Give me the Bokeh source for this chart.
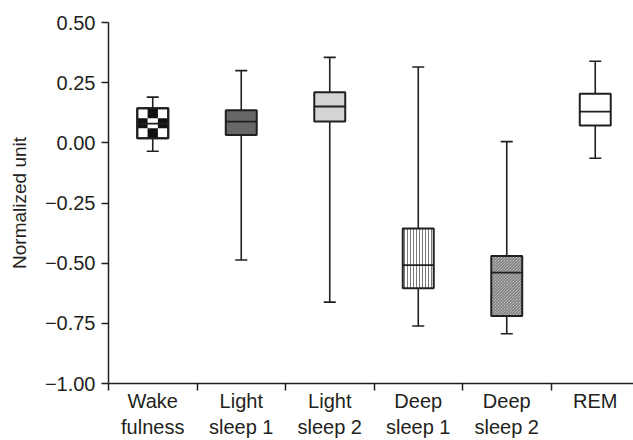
from bokeh.plotting import figure
from bokeh.models import Range1d, FixedTicker, ColumnDataSource
from bokeh.embed import file_html
from bokeh.resources import INLINE

categories = ["Wake\nfulness", "Light\nsleep 1", "Light\nsleep 2", "Deep\nsleep 1", "Deep\nsleep 2", "REM"]
whisker_low = [-0.035, -0.487, -0.662, -0.761, -0.793, -0.064]
q1 = [0.019, 0.033, 0.089, -0.604, -0.720, 0.072]
median = [0.080, 0.088, 0.151, -0.508, -0.539, 0.130]
q3 = [0.144, 0.135, 0.210, -0.356, -0.470, 0.204]
whisker_high = [0.190, 0.300, 0.355, 0.315, 0.005, 0.339]
y_ticks = [-1.0, -0.75, -0.5, -0.25, 0.0, 0.25, 0.5]
y_tick_labels = ["\u22121.00", "\u22120.75", "\u22120.50", "\u22120.25", "0.00", "0.25", "0.50"]

INK = "#231f20"
FONT = "Liberation Sans"
n = len(categories)
centers = [i + 0.5 for i in range(n)]
bounds = [float(i) for i in range(n + 1)]
BW = 0.35
CAP = 0.068

fills = ["white", "#676767", "#d4d4d4", "white", "#dcdcdc", "white"]
hatches = [" ", " ", " ", "vertical_line", "left_diagonal_line", " "]
hscale = [4, 4, 4, 3, 3, 4]
hcolor = ["#777777", "#777777", "#777777", "#7a7a7a", "#6a6a6a", "#777777"]

p = figure(width=633, height=440, output_backend="svg", toolbar_location=None,
           x_range=Range1d(0, 525 / 88.5), y_range=Range1d(-1.0, 0.5),
           min_border_left=108, min_border_right=0, min_border_top=22, min_border_bottom=57)
p.outline_line_color = None
p.xgrid.visible = False
p.ygrid.visible = False
p.background_fill_color = "white"
p.border_fill_color = "white"

src = ColumnDataSource(dict(x=centers, lo=whisker_low, q1=q1, med=median, q3=q3, hi=whisker_high,
                            fill=fills, hatch=hatches, hs=hscale, hc=hcolor))

# whiskers
p.segment(x0="x", y0="q3", x1="x", y1="hi", source=src, line_color=INK, line_width=1.6)
p.segment(x0="x", y0="q1", x1="x", y1="lo", source=src, line_color=INK, line_width=1.6)
cap_l = [c - CAP for c in centers]
cap_r = [c + CAP for c in centers]
p.segment(x0=cap_l, y0=whisker_high, x1=cap_r, y1=whisker_high, line_color=INK, line_width=1.6)
p.segment(x0=cap_l, y0=whisker_low, x1=cap_r, y1=whisker_low, line_color=INK, line_width=1.6)

# boxes
p.vbar(x="x", width=BW, top="q3", bottom="q1", source=src, fill_color="fill",
       hatch_pattern="hatch", hatch_color="hc", hatch_scale="hs", hatch_weight=1,
       line_color=INK, line_width=2)

# checker pattern for wakefulness box (3x3 cells derived from its quartiles)
i0 = 0
cw = BW / 3
ch = (q3[i0] - q1[i0]) / 3
left = centers[i0] - BW / 2
cells = [(1, 2), (0, 1), (2, 1), (1, 0)]
cx = [left + cw * (c + 0.5) for c, r in cells]
cy = [q1[i0] + ch * (r + 0.5) for c, r in cells]
p.rect(x=cx, y=cy, width=cw, height=ch, fill_color="#111111", line_color=None)
p.vbar(x=[centers[i0]], width=BW, top=[q3[i0]], bottom=[q1[i0]], fill_color=None,
       line_color=INK, line_width=2)

# medians
p.segment(x0=[c - BW / 2 for c in centers], y0=median, x1=[c + BW / 2 for c in centers], y1=median,
          line_color=INK, line_width=1.8)

# x axis
xa = p.xaxis[0]
xa.ticker = FixedTicker(ticks=centers, minor_ticks=bounds)
xa.major_label_overrides = {c: lab for c, lab in zip(centers, categories)}
xa.major_tick_line_color = None
xa.major_tick_out = 0
xa.major_tick_in = 0
xa.minor_tick_out = 7
xa.minor_tick_in = 0
xa.minor_tick_line_color = INK
xa.minor_tick_line_width = 1.5
xa.axis_line_color = INK
xa.axis_line_width = 1.5
xa.major_label_text_font = FONT
xa.major_label_text_font_size = "20px"
xa.major_label_text_color = INK
xa.major_label_standoff = -1

# y axis
ya = p.yaxis[0]
ya.ticker = FixedTicker(ticks=y_ticks)
ya.major_label_overrides = {t: lab for t, lab in zip(y_ticks, y_tick_labels)}
ya.minor_tick_line_color = None
ya.major_tick_out = 7
ya.major_tick_in = 0
ya.major_tick_line_color = INK
ya.major_tick_line_width = 1.5
ya.axis_line_color = INK
ya.axis_line_width = 1.5
ya.major_label_text_font = FONT
ya.major_label_text_font_size = "20px"
ya.major_label_text_color = INK
ya.major_label_standoff = 6
ya.axis_label = "Normalized unit"
ya.axis_label_text_font = FONT
ya.axis_label_text_font_size = "19px"
ya.axis_label_text_font_style = "normal"
ya.axis_label_text_color = INK
ya.axis_label_standoff = 12

open("out.html", "w").write(file_html(p, INLINE))
